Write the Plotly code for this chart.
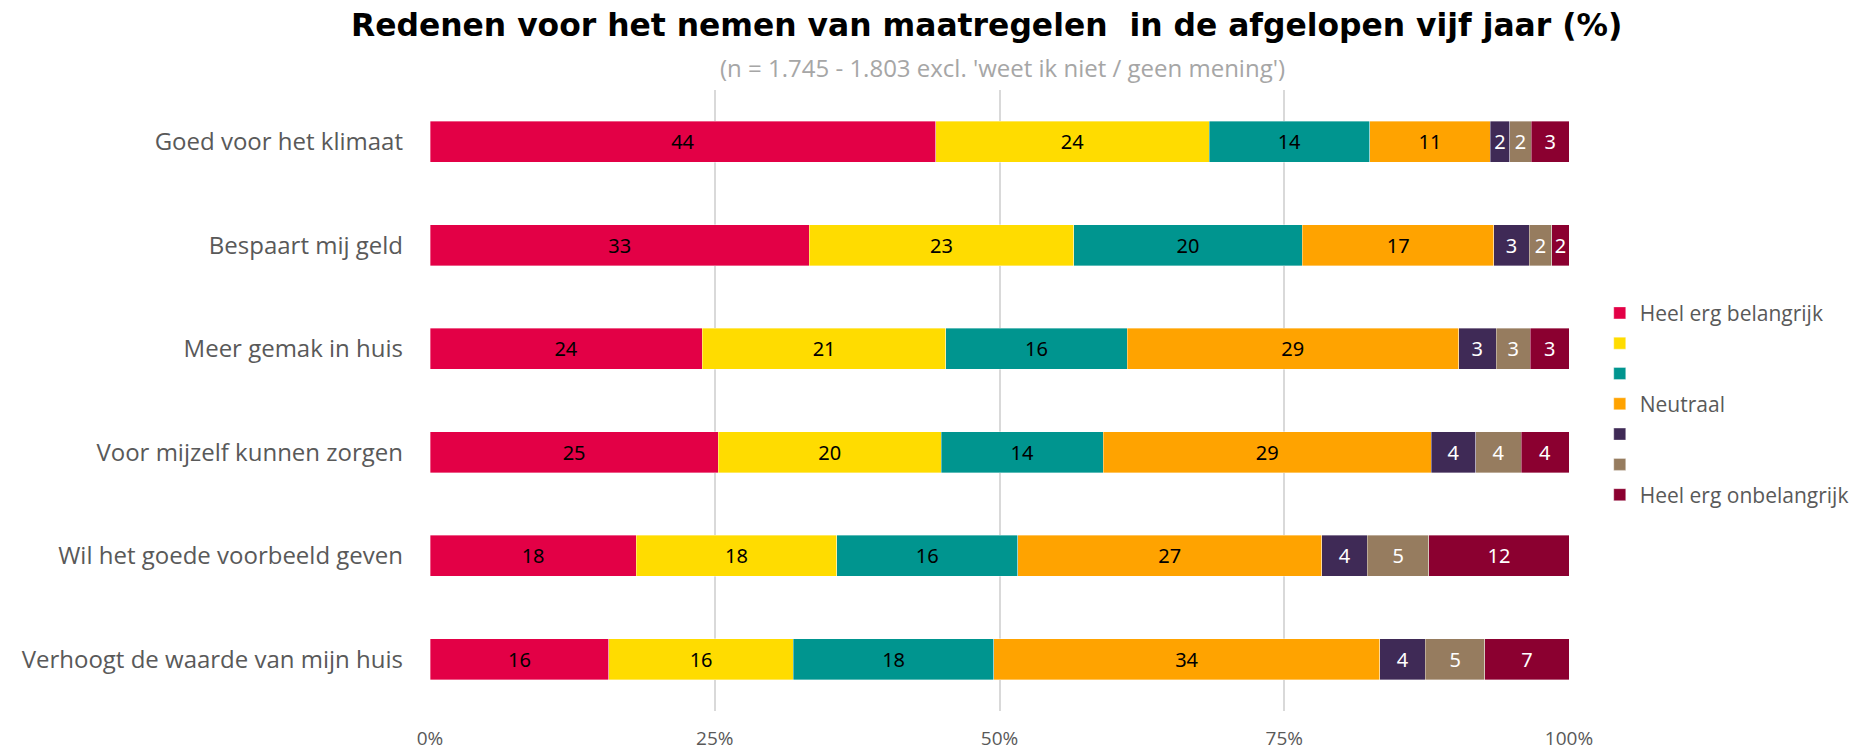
import plotly.graph_objects as go

categories = [
    "Goed voor het klimaat",
    "Bespaart mij geld",
    "Meer gemak in huis",
    "Voor mijzelf kunnen zorgen",
    "Wil het goede voorbeeld geven",
    "Verhoogt de waarde van mijn huis",
]

series_names = [
    "Heel erg belangrijk", " ", "  ", "Neutraal", "   ", "    ", "Heel erg onbelangrijk",
]

heel_erg_belangrijk = [44.4, 33.3, 23.9, 25.3, 18.1, 15.7]
belangrijk_2 = [24.0, 23.2, 21.4, 19.6, 17.6, 16.2]
belangrijk_3 = [14.1, 20.1, 15.9, 14.2, 15.9, 17.6]
neutraal = [10.6, 16.8, 29.1, 28.8, 26.7, 33.9]
onbelangrijk_5 = [1.7, 3.1, 3.3, 3.9, 4.0, 4.0]
onbelangrijk_6 = [1.9, 2.0, 3.0, 4.0, 5.4, 5.2]
heel_erg_onbelangrijk = [3.3, 1.5, 3.4, 4.2, 12.3, 7.4]

series_values = [
    heel_erg_belangrijk, belangrijk_2, belangrijk_3, neutraal,
    onbelangrijk_5, onbelangrijk_6, heel_erg_onbelangrijk,
]

colors = ["#E30046", "#FFDC00", "#00958F", "#FFA300", "#3F2A56", "#967C5F", "#8B0030"]
text_colors = ["#000000", "#000000", "#000000", "#000000", "#FFFFFF", "#FFFFFF", "#FFFFFF"]

tick_vals = [0, 25, 50, 75, 100]
tick_text = ["0%", "25%", "50%", "75%", "100%"]

fig = go.Figure()
for name, vals, col, tcol in zip(series_names, series_values, colors, text_colors):
    fig.add_trace(go.Bar(
        y=categories,
        x=vals,
        name=name,
        orientation="h",
        marker=dict(color=col, line=dict(color="rgba(255,255,255,0.45)", width=0.8)),
        text=[str(int(v + 0.5)) for v in vals],
        textposition="inside",
        insidetextanchor="middle",
        textangle=0,
        textfont=dict(color=tcol, size=20, family="Noto Sans"),
        constraintext="none",
        hoverinfo="x+y+name",
    ))

# page body has an 8px default margin; the figure is sized to fit the window
fig.update_layout(
    barmode="stack",
    bargap=0.6,
    width=1857,
    height=745,
    autosize=False,
    paper_bgcolor="white",
    plot_bgcolor="white",
    margin=dict(l=422, r=296, t=82, b=42, autoexpand=False),
    font=dict(family="Open Sans", color="#595959"),
    legend=dict(
        x=1.027, xanchor="left", y=0.494, yanchor="middle",
        font=dict(size=21, color="#595959", family="Open Sans"),
        traceorder="normal",
        itemclick=False,
    ),
    annotations=[
        dict(
            text="<b>Redenen voor het nemen van maatregelen  in de afgelopen vijf jaar (%)</b>",
            xref="paper", yref="paper", x=0.489, y=1.0, yshift=65,
            xanchor="center", yanchor="middle", showarrow=False,
            font=dict(family="DejaVu Sans", size=31.4, color="#000000"),
        ),
        dict(
            text="(n = 1.745 - 1.803 excl. 'weet ik niet / geen mening')",
            xref="paper", yref="paper", x=0.503, y=1.0, yshift=23,
            xanchor="center", yanchor="middle", showarrow=False,
            font=dict(family="Open Sans", size=24, color="#A6A6A6"),
        ),
    ],
)

fig.update_xaxes(
    range=[0, 100],
    tickvals=tick_vals,
    ticktext=tick_text,
    showgrid=True,
    gridcolor="#D9D9D9",
    gridwidth=2,
    zeroline=False,
    showline=False,
    automargin=False,
    tickfont=dict(size=19, color="#595959"),
    ticklabelstandoff=14,
    fixedrange=True,
)
fig.update_yaxes(
    autorange="reversed",
    showgrid=False,
    showline=False,
    automargin=False,
    ticks="",
    ticklabelstandoff=26,
    tickfont=dict(size=24, color="#595959"),
    fixedrange=True,
)

fig.write_html("out.html")
